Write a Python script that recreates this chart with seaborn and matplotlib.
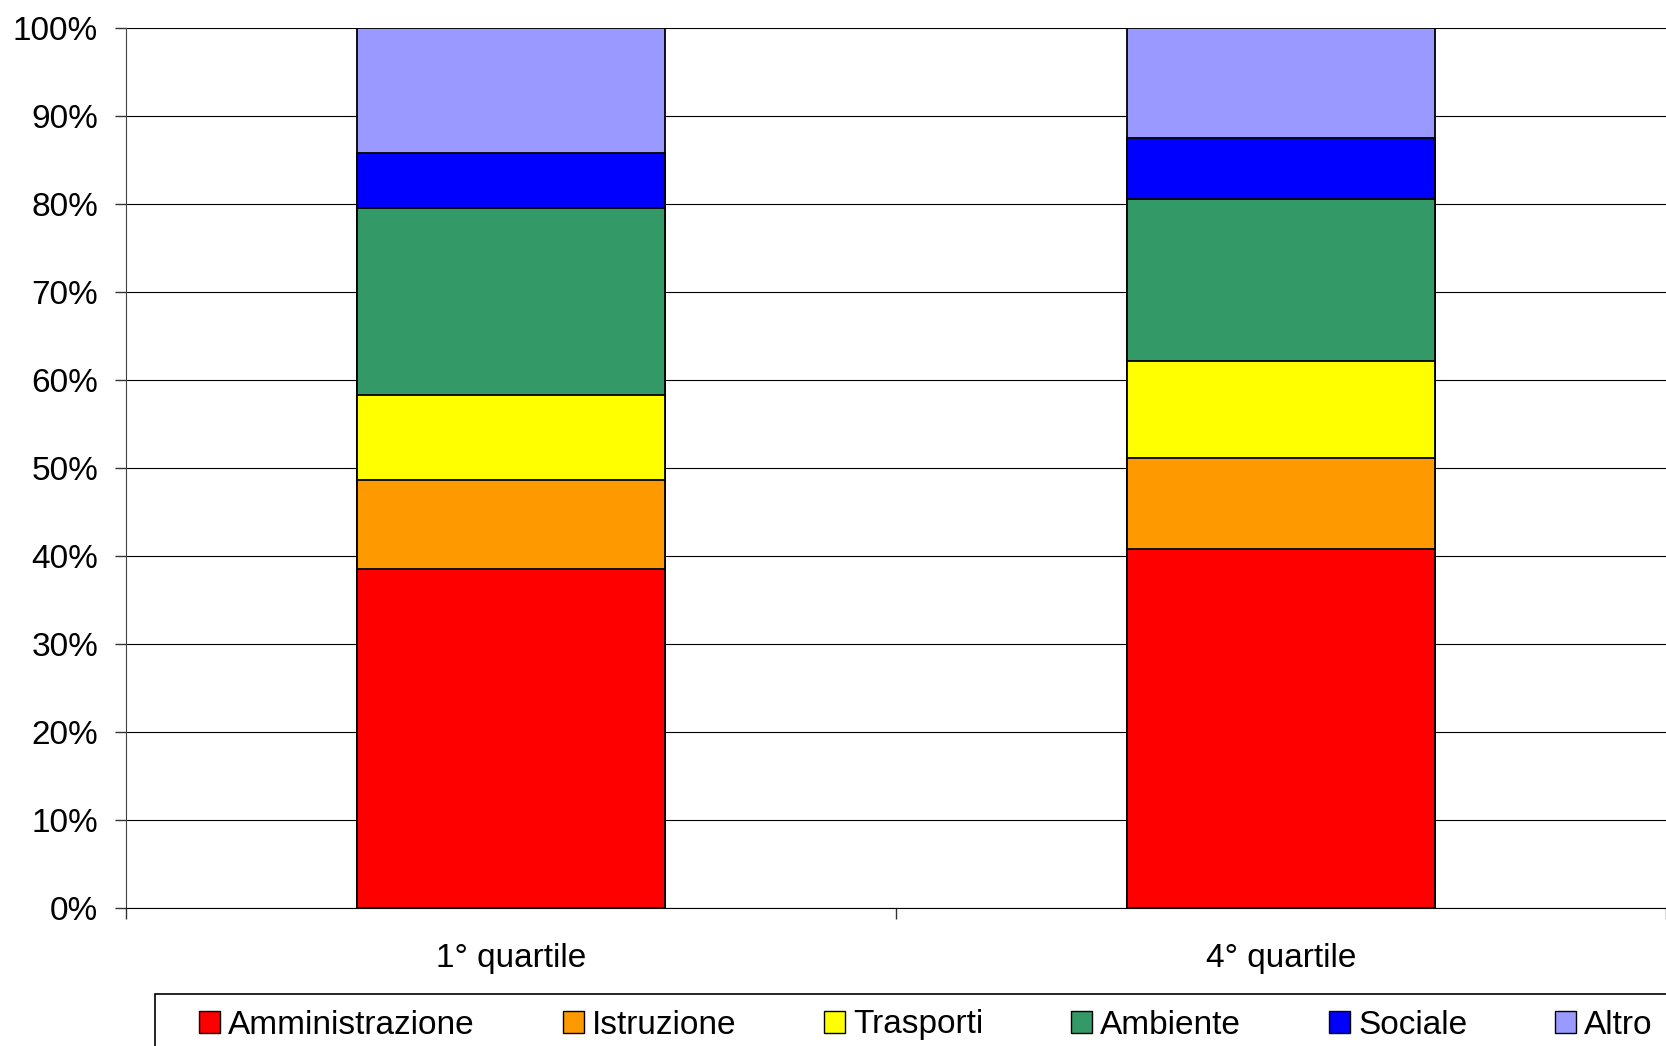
import matplotlib
matplotlib.use('Agg')
import matplotlib.pyplot as plt
import seaborn as sns
import pandas as pd
from matplotlib.patches import Patch, Rectangle
from matplotlib.ticker import FuncFormatter

# dati
quartili = ['1° quartile', '4° quartile']
settori = ['Amministrazione', 'Istruzione', 'Trasporti', 'Ambiente', 'Sociale', 'Altro']
amministrazione = [38.5, 40.8]
istruzione = [10.1, 10.3]
trasporti = [9.7, 11.1]
ambiente = [21.2, 18.4]
sociale = [6.3, 6.9]
altro = [14.2, 12.5]
colori = ['#FF0000', '#FF9900', '#FFFF00', '#339966', '#0000FF', '#9999FF']

df = pd.DataFrame({'quartile': quartili,
                   'Amministrazione': amministrazione,
                   'Istruzione': istruzione,
                   'Trasporti': trasporti,
                   'Ambiente': ambiente,
                   'Sociale': sociale,
                   'Altro': altro})
cum = df[settori].cumsum(axis=1)

sns.set_style('white')
plt.rcParams['font.family'] = ['Liberation Sans', 'DejaVu Sans']
plt.rcParams['text.color'] = 'black'

fig = plt.figure(figsize=(16.66, 10.46), dpi=100)
ax = fig.add_axes([126/1666, 138/1046, 1540/1666, 880/1046])

# barre impilate: si disegna dal totale cumulato verso il basso
for s, c in reversed(list(zip(settori, colori))):
    sns.barplot(x=df['quartile'], y=cum[s], color=c, width=0.4, saturation=1,
                edgecolor='black', linewidth=1.3, errorbar=None, ax=ax)

ax.set_xlim(-0.5, 1.5)
ax.set_ylim(0, 100)
ax.set_xlabel('')
ax.set_ylabel('')

ax.set_yticks(range(0, 101, 10))
ax.yaxis.set_major_formatter(FuncFormatter(lambda v, p: f'{v:.0f}%'))
ax.tick_params(axis='y', length=8, width=1, pad=12, labelsize=24, color='#333333',
               labelcolor='black', left=True)

ax.set_xticks([0, 1])
ax.set_xticklabels(quartili)
ax.set_xticks([-0.5, 0.5, 1.5], minor=True)
ax.tick_params(axis='x', which='major', length=0, pad=25, labelsize=24, labelcolor='black')
ax.tick_params(axis='x', which='minor', length=8, width=1, color='#333333', bottom=True)

ax.set_axisbelow(True)
ax.yaxis.grid(True, color='black', linewidth=0.8)
ax.xaxis.grid(False)

ax.spines['top'].set_visible(False)
ax.spines['right'].set_visible(False)
ax.spines['left'].set_color('#444444')
ax.spines['bottom'].set_color('black')

handles = [Patch(facecolor=c, edgecolor='black', label=s) for s, c in zip(settori, colori)]
fig.legend(handles=handles, loc='center left', bbox_to_anchor=(199/1666, 1 - 1025/1046),
           ncol=6, frameon=False, fontsize=24, handlelength=0.63, handleheight=0.66,
           handletextpad=0.24, columnspacing=2.64, borderpad=0, borderaxespad=0,
           labelcolor='black')

fig.add_artist(Rectangle((155/1666, -0.1), 1, (1 - 994.5/1046) + 0.1,
                         transform=fig.transFigure, fill=False, edgecolor='black', linewidth=1.2))

fig.savefig('out.png', dpi=100)
